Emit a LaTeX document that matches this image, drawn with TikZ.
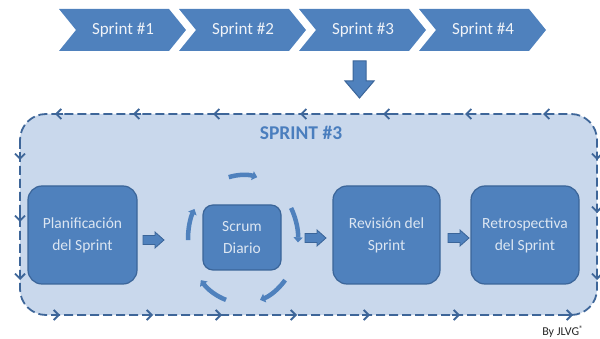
\documentclass[tikz,border=0pt]{standalone}
\usepackage{fontspec}
\setmainfont{Carlito}
\usetikzlibrary{arrows.meta}
\definecolor{officeblue}{HTML}{4F81BD}
\definecolor{edgeblue}{HTML}{3B6599}
\definecolor{borderblue}{HTML}{3E6699}
\definecolor{panelblue}{HTML}{C9D8EC}
\definecolor{titleblue}{HTML}{4A7EBE}
\definecolor{paletext}{HTML}{DCE6F2}
\definecolor{chevtext}{HTML}{F0F3F8}
\tikzset{
  chevshape/.style={fill=officeblue, draw=none},
  chevlabel/.style={font=\fontsize{17}{20}\selectfont, text=chevtext, inner sep=0pt},
  procbox/.style={draw=edgeblue, line width=1.2pt, fill=officeblue, rounded corners=14pt,
     text=paletext, align=center, font=\fontsize{15.5}{22}\selectfont, inner sep=0pt},
  blockarrow/.style={fill=officeblue, draw=edgeblue, line width=0.8pt},
  bordline/.style={draw=borderblue, line width=1.8pt, dash pattern=on 9pt off 4pt, rounded corners=26pt},
  bordtip/.style={draw=borderblue, line width=1.8pt, -{Straight Barb[length=5pt,width=10pt]}},
  cycarc/.style={draw=officeblue, line width=4.5pt, -{Triangle[length=5pt,width=9pt]}},
}
\begin{document}
\begin{tikzpicture}[x=1pt,y=-1pt]
\useasboundingbox (0,0) rectangle (600,339);
% chevrons
\foreach \i/\xo in {1/59,2/179,3/299,4/419}{
  \fill[chevshape] (\xo,9) -- ++(110,0) -- ++(17,21) -- ++(-17,21) -- ++(-110,0) -- ++(17,-21) -- cycle;
  \node[chevlabel] (s\i) at (\xo+64,30) {Sprint \#\i};
}
% down arrow
\draw[fill=officeblue, draw=edgeblue, line width=1pt]
  (353,61) -- (366,61) -- (366,81) -- (374,81) -- (359.5,98) -- (345,81) -- (353,81) -- cycle;
% panel
\fill[panelblue, rounded corners=26pt] (20,114) rectangle (597,315);
\draw[bordline] (20,114) rectangle (597,315);
% border arrowheads
\foreach \x in {55,133,213,300,383,465,543}{ \draw[bordtip] (\x+8,114) -- (\x,114); }
\foreach \x in {60,153,222,297,370,460,573}{ \draw[bordtip] (\x-8,315) -- (\x,315); }
\foreach \y in {160,222,280}{ \draw[bordtip] (20,\y-8) -- (20,\y); }
\foreach \y in {160,213,280}{ \draw[bordtip] (597,\y-8) -- (597,\y); }
% title
\node[font=\fontsize{19.5}{22}\selectfont\bfseries, text=titleblue] (title) at (301,133) {SPRINT \#3};
% process boxes
\node[procbox, minimum width=109pt, minimum height=98pt] (plan) at (82.5,235) {Planificación\\del Sprint};
\node[procbox, minimum width=78pt, minimum height=65pt, rounded corners=10pt] (scrum) at (242,237.5) {Scrum\\Diario};
\node[procbox, minimum width=107pt, minimum height=98pt] (rev) at (386.5,235) {Revisión del\\Sprint};
\node[procbox, minimum width=108pt, minimum height=98pt] (retro) at (525,235) {Retrospectiva\\del Sprint};
% block arrows
\foreach \xa/\yc in {143/240, 305/238, 448/238}{
  \draw[blockarrow] (\xa,\yc-4.5) -- (\xa+12,\yc-4.5) -- (\xa+12,\yc-8) -- (\xa+21,\yc) -- (\xa+12,\yc+8) -- (\xa+12,\yc+4.5) -- (\xa,\yc+4.5) -- cycle;
}
% daily cycle arcs
\foreach \a/\b in {-105/-75, -29/3, 40/72, 108/140, -181/-152}{
  \draw[cycarc] (243,239) ++(\a:55 and 64) arc[start angle=\a, end angle=\b, x radius=55, y radius=64];
}
% credit
\node[font=\fontsize{12}{14}\selectfont, text=black!85] (credit) at (563,332) {By JLVG\textsuperscript{®}};
\end{tikzpicture}
\end{document}
